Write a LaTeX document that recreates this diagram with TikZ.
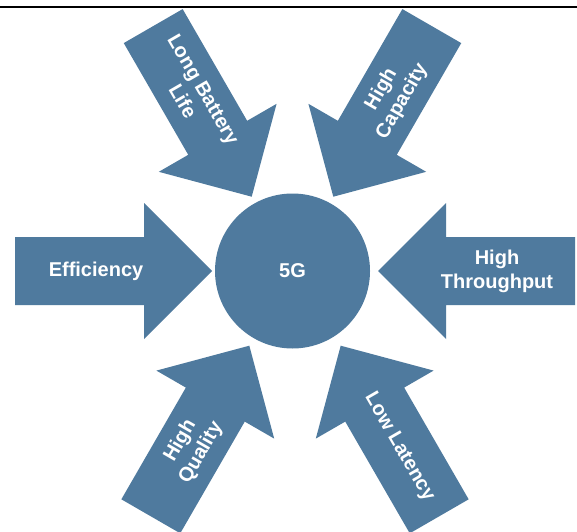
\documentclass[tikz,border=0pt]{standalone}
\usepackage{fontspec}
\setmainfont{Liberation Sans}
\usetikzlibrary{calc}
\definecolor{steel}{RGB}{79,122,158}
\tikzset{
  x=1pt, y=1pt,
  bigarrow/.style={fill=steel, draw=none},
  hub/.style={circle, fill=steel, draw=none, minimum size=155pt, inner sep=0pt,
    text=white, font=\fontsize{20}{24}\selectfont\bfseries},
  lbl/.style={text=white, align=center, inner sep=0pt,
    font=\fontsize{20}{24}\selectfont\bfseries}
}
% block arrow with its tip at the origin, pointing along +x
\newcommand{\blockarrow}{(0,0) -- (-68,68) -- (-68,34) -- (-197,34) -- (-197,-34)
  -- (-68,-34) -- (-68,-68) -- cycle}
\begin{document}
\begin{tikzpicture}
\useasboundingbox (0,0) rectangle (577,531);
\fill[white] (0,0) rectangle (577,531);
% rule along the top
\draw[line width=2.5pt] (0,524) -- (577,524);

% tips of the six arrows
\coordinate (tipEff) at (212,260);
\coordinate (tipThr) at (378,260);
\coordinate (tipBat) at (251.7,334.3);
\coordinate (tipCap) at (333.3,334.3);
\coordinate (tipQua) at (249.3,185.3);
\coordinate (tipLat) at (340.7,185.3);

\fill[bigarrow, shift={(tipEff)}, rotate=0] \blockarrow;
\fill[bigarrow, shift={(tipThr)}, rotate=180] \blockarrow;
\fill[bigarrow, shift={(tipBat)}, rotate=-60] \blockarrow;
\fill[bigarrow, shift={(tipCap)}, rotate=-120] \blockarrow;
\fill[bigarrow, shift={(tipQua)}, rotate=60] \blockarrow;
\fill[bigarrow, shift={(tipLat)}, rotate=120] \blockarrow;

\node[hub] (core) at (292.5,260) {5G};

\node[lbl] (eff) at ($(tipEff)+(180:116)$) {Efficiency};
\node[lbl] (thr) at ($(tipThr)+(0:119)$) {High\\Throughput};
\node[lbl, rotate=-60] (bat) at ($(tipBat)+(120:117)$) {Long Battery\\Life};
\node[lbl, rotate=60] (cap) at ($(tipCap)+(60:117)$) {High\\Capacity};
\node[lbl, rotate=60] (qua) at ($(tipQua)+(240:117)$) {High\\Quality};
\node[lbl, rotate=-60] (lat) at ($(tipLat)+(300:117)$) {Low Latency};
\end{tikzpicture}
\end{document}
